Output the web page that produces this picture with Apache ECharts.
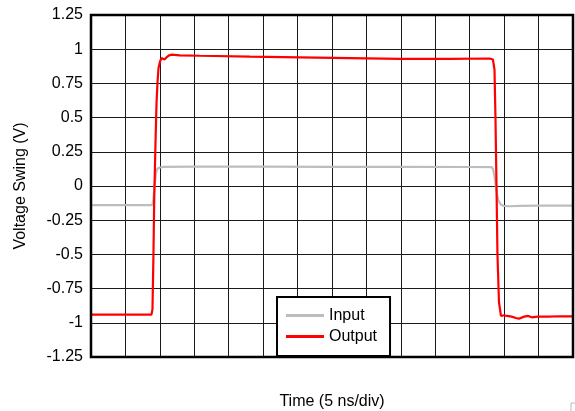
<!DOCTYPE html>
<html lang="en">
  <head>
    <meta charset="UTF-8" />
    <script src="https://cdn.jsdelivr.net/npm/echarts@6/dist/echarts.min.js"></script>
    <title>Voltage Swing</title>
    <style>
      html, body { margin: 0; padding: 0; background: #fff; }
      #app { width: 575px; height: 411px; }
    </style>
  </head>
  <body>
    <div id="app"></div>

    <script>
      // time in ns (5 ns per division), voltage in V
      const inputTime = [0, 5, 8.9, 9.05, 9.2, 9.4, 9.6, 10.0, 10.6, 15, 25, 35, 45, 55, 58.2, 58.4, 58.6, 58.8, 59.0, 59.2, 59.5, 59.9, 60.8, 62.3, 65, 70];
      const inputVolt = [-0.14, -0.14, -0.14, -0.1, -0.02, 0.08, 0.125, 0.135, 0.14, 0.142, 0.141, 0.14, 0.14, 0.139, 0.138, 0.12, 0.07, 0.0, -0.07, -0.11, -0.135, -0.145, -0.148, -0.145, -0.143, -0.143];

      const outputTime = [0, 4, 8.78, 8.93, 9.07, 9.18, 9.36, 9.51, 9.66, 9.8, 10.02, 10.24, 10.45, 10.67, 10.96, 11.33, 11.76, 12.9, 15.8, 23.1, 30.3, 37.6, 44.9, 52.1, 57.9, 58.37, 58.6, 58.74, 58.89, 59.03, 59.25, 59.54, 59.68, 59.97, 60.4, 61.1, 61.7, 62.15, 62.9, 63.5, 64.0, 64.9, 66.4, 68.1, 70];
      const outputVolt = [-0.94, -0.94, -0.94, -0.9, -0.5, -0.1, 0.3, 0.6, 0.76, 0.86, 0.91, 0.935, 0.94, 0.925, 0.94, 0.955, 0.96, 0.955, 0.952, 0.945, 0.94, 0.935, 0.93, 0.93, 0.932, 0.925, 0.85, 0.5, 0.0, -0.5, -0.85, -0.95, -0.96, -0.945, -0.95, -0.955, -0.965, -0.97, -0.955, -0.95, -0.96, -0.955, -0.955, -0.952, -0.953];

      const zip = (xs, ys) => xs.map((x, i) => [x, ys[i]]);

      const chart = echarts.init(document.getElementById("app"), null, { renderer: "canvas" });

      chart.setOption({
        animation: false,
        textStyle: { fontFamily: "Liberation Sans, Arial, sans-serif" },
        grid: {
          left: 91,
          right: 2,
          top: 15,
          bottom: 54,
          containLabel: false,
          outerBoundsMode: "none",
          show: true,
          borderColor: "#000",
          borderWidth: 2.5,
          z: 10,
        },
        legend: {
          orient: "vertical",
          left: 277,
          top: 297,
          padding: [10, 13, 11, 9],
          itemGap: 4,
          itemWidth: 38,
          itemHeight: 3,
          icon: "rect",
          backgroundColor: "#fff",
          borderColor: "#000",
          borderWidth: 2,
          textStyle: { fontSize: 16, lineHeight: 17, color: "#000" },
          data: ["Input", "Output"],
          z: 20,
        },
        xAxis: {
          type: "value",
          min: 0,
          max: 70,
          interval: 5,
          name: "Time (5 ns/div)",
          nameLocation: "middle",
          nameGap: 37,
          nameTextStyle: { fontSize: 16, color: "#000" },
          axisLine: { show: false },
          axisTick: { show: false },
          axisLabel: { show: false },
          splitLine: { show: true, lineStyle: { color: "#1a1a1a", width: 1 } },
        },
        yAxis: {
          type: "value",
          min: -1.25,
          max: 1.25,
          interval: 0.25,
          name: "Voltage Swing (V)",
          nameLocation: "middle",
          nameGap: 62,
          nameTextStyle: { fontSize: 16, color: "#000" },
          axisLine: { show: false },
          axisTick: { show: false },
          axisLabel: { fontSize: 16, color: "#000", margin: 8 },
          splitLine: { show: true, lineStyle: { color: "#1a1a1a", width: 1 } },
        },
        series: [
          {
            name: "Input",
            type: "line",
            data: zip(inputTime, inputVolt),
            showSymbol: false,
            symbol: "none",
            color: "#bdbdbd",
            lineStyle: { color: "#bdbdbd", width: 2.2 },
            z: 3,
          },
          {
            name: "Output",
            type: "line",
            data: zip(outputTime, outputVolt),
            showSymbol: false,
            symbol: "none",
            color: "#ff0000",
            lineStyle: { color: "#ff0000", width: 2.2 },
            z: 4,
          },
        ],
        graphic: [
          {
            type: "polyline",
            shape: { points: [[571, 411], [571, 403], [575, 403]] },
            style: { stroke: "#bbb", lineWidth: 1, fill: null },
          },
        ],
      });
    </script>
  </body>
</html>
